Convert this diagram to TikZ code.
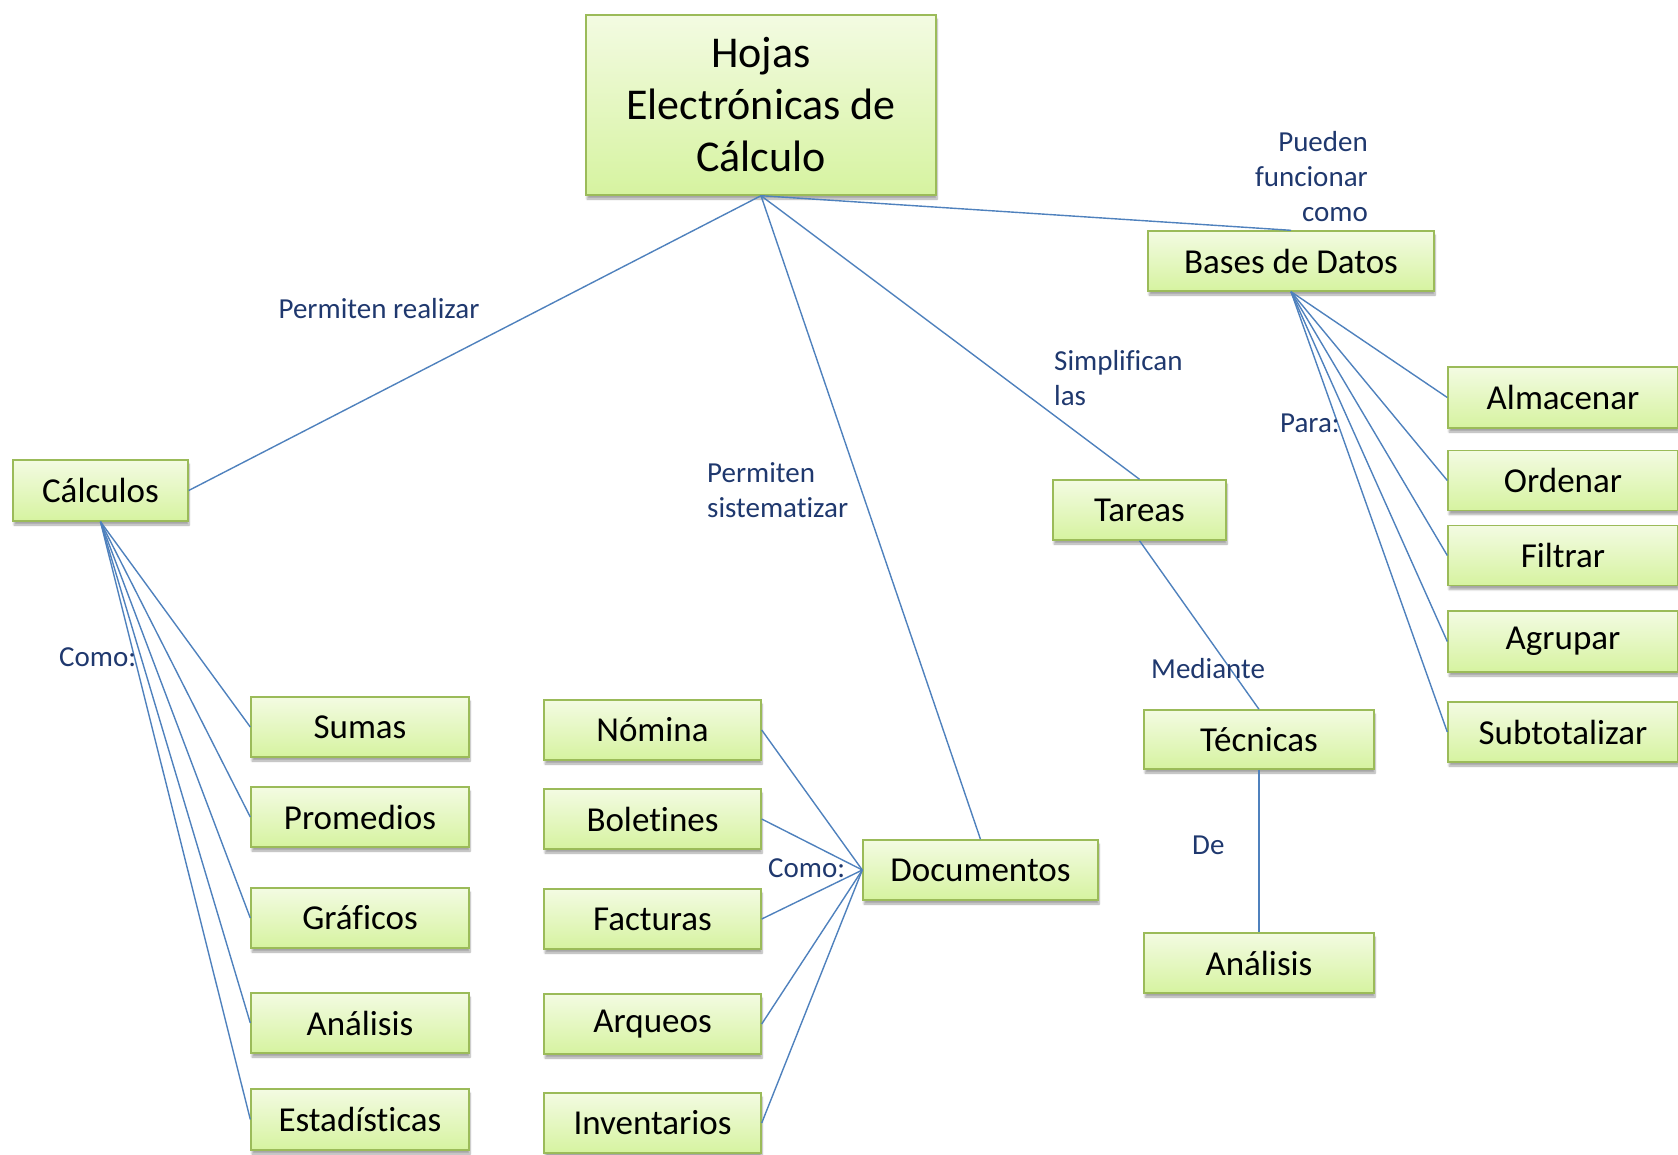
\documentclass[tikz,border=0pt]{standalone}
\usepackage{fontspec}
\setmainfont{Carlito}[Ligatures=NoCommon]
\usetikzlibrary{shadows,shadows.blur}
\definecolor{boxtop}{RGB}{243,251,226}
\definecolor{boxbot}{RGB}{214,243,160}
\definecolor{boxline}{RGB}{155,187,89}
\definecolor{linkcol}{RGB}{79,129,189}
\definecolor{labcol}{RGB}{31,56,110}
\tikzset{
  cbox/.style={rectangle, draw=boxline, line width=1.4pt, top color=boxtop, bottom color=boxbot,
    inner sep=0pt, align=center, font=\fontsize{35}{42}\selectfont,
    blur shadow={shadow xshift=1pt, shadow yshift=-4pt, shadow blur steps=6, shadow opacity=35}},
  link/.style={draw=linkcol, line width=1.4pt},
  lab/.style={inner sep=0pt, text=labcol, font=\fontsize{29}{35}\selectfont}
}
\begin{document}
\begin{tikzpicture}[x=1pt,y=-1pt]
\useasboundingbox (0,0) rectangle (1678,1154);
% main nodes
\node[cbox, minimum width=350pt, minimum height=180pt, font=\fontsize{44}{52}\selectfont] (hojas) at (761,105) {Hojas\\Electrónicas de\\Cálculo};
\node[cbox, minimum width=286pt, minimum height=60pt] (bases) at (1291,261) {Bases de Datos};
\node[cbox, minimum width=175pt, minimum height=61pt] (calc) at (100.5,490.5) {Cálculos};
\node[cbox, minimum width=173pt, minimum height=60pt] (tareas) at (1139.5,510) {Tareas};
\node[cbox, minimum width=230pt, minimum height=59pt] (tecn) at (1259,739.5) {Técnicas};
\node[cbox, minimum width=230pt, minimum height=60pt] (anr) at (1259,963) {Análisis};
\node[cbox, minimum width=235pt, minimum height=60pt] (docs) at (980.5,870) {Documentos};
% right column
\node[cbox, minimum width=230pt, minimum height=61pt] (alm) at (1563,397.5) {Almacenar};
\node[cbox, minimum width=230pt, minimum height=60pt] (ord) at (1563,480.5) {Ordenar};
\node[cbox, minimum width=230pt, minimum height=60pt] (fil) at (1563,555.5) {Filtrar};
\node[cbox, minimum width=230pt, minimum height=61pt] (agr) at (1563,641.5) {Agrupar};
\node[cbox, minimum width=230pt, minimum height=60pt] (sub) at (1563,732) {Subtotalizar};
% left column
\node[cbox, minimum width=218pt, minimum height=60pt] (sum) at (360,727) {Sumas};
\node[cbox, minimum width=218pt, minimum height=60pt] (pro) at (360,817) {Promedios};
\node[cbox, minimum width=218pt, minimum height=60pt] (gra) at (360,918) {Gráficos};
\node[cbox, minimum width=218pt, minimum height=60pt] (ana) at (360,1023) {Análisis};
\node[cbox, minimum width=218pt, minimum height=61pt] (est) at (360,1119.5) {Estadísticas};
% middle column
\node[cbox, minimum width=217pt, minimum height=60pt] (nom) at (652.5,730) {Nómina};
\node[cbox, minimum width=217pt, minimum height=60pt] (bol) at (652.5,819) {Boletines};
\node[cbox, minimum width=217pt, minimum height=60pt] (fac) at (652.5,919) {Facturas};
\node[cbox, minimum width=217pt, minimum height=60pt] (arq) at (652.5,1024) {Arqueos};
\node[cbox, minimum width=217pt, minimum height=60pt] (inv) at (652.5,1123) {Inventarios};
% connectors
\draw[link] (hojas.south) -- (calc.east);
\draw[link] (hojas.south) -- (docs.north);
\draw[link] (hojas.south) -- (tareas.north);
\draw[link] (hojas.south) -- (bases.north);
\foreach \n in {alm,ord,fil,agr,sub} \draw[link] (bases.south) -- (\n.west);
\foreach \n in {sum,pro,gra,ana,est} \draw[link] (calc.south) -- (\n.west);
\foreach \n in {nom,bol,fac,arq,inv} \draw[link] (docs.west) -- (\n.east);
\draw[link] (tareas.south) -- (tecn.north);
\draw[link] (tecn.south) -- (anr.north);
% labels
\node[lab] (l1) at (379,309) {Permiten realizar};
\node[lab, anchor=east, align=right] (l2) at (1368,177) {Pueden\\funcionar\\como};
\node[lab, anchor=west, align=left] (l3) at (1054,378) {Simplifican\\las};
\node[lab, anchor=west] (l4) at (1280,423) {Para:};
\node[lab, anchor=west, align=left] (l5) at (707,490) {Permiten\\sistematizar};
\node[lab, anchor=west] (l6) at (59,657) {Como:};
\node[lab, anchor=west] (l7) at (1151,669) {Mediante};
\node[lab, anchor=west] (l8) at (1192,845) {De};
\node[lab, anchor=west] (l9) at (768,868) {Como:};
\end{tikzpicture}
\end{document}
